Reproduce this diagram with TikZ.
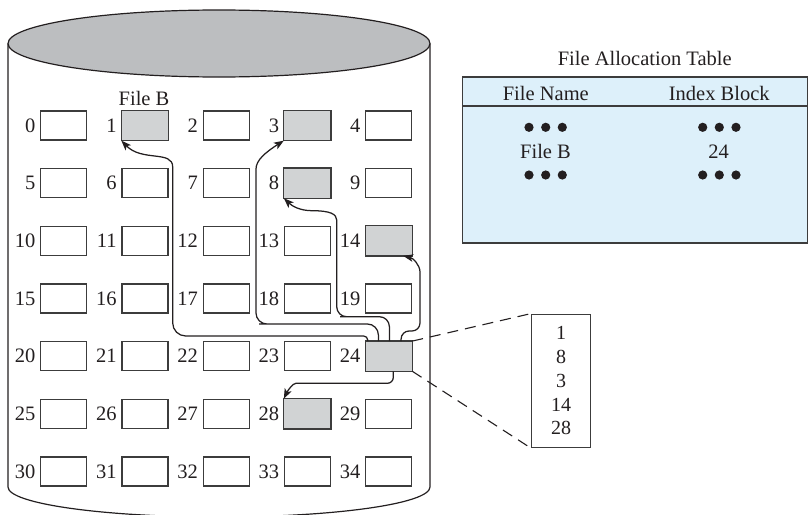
\documentclass[tikz,border=0pt]{standalone}
\usepackage{fontspec}
\setmainfont{Liberation Serif}
\usetikzlibrary{arrows.meta}
\definecolor{ink}{HTML}{231F20}
\definecolor{boxline}{HTML}{3C3C3C}
\definecolor{topgray}{HTML}{BCBEC0}
\definecolor{blockgray}{HTML}{D1D3D4}
\definecolor{tblue}{HTML}{DDF0FA}
\tikzset{
  blk/.style={draw=boxline, line width=1.2pt, minimum width=46pt, minimum height=29pt, inner sep=0pt, fill=white},
  num/.style={anchor=east, inner sep=0pt, text=ink},
  cyl/.style={draw=ink, line width=1.2pt},
  link/.style={draw=ink, line width=1.25pt, -{Stealth[length=10pt,width=7.5pt,inset=2.5pt]}},
  dashln/.style={draw=ink, line width=1.1pt, dash pattern=on 11pt off 7pt},
  lbl/.style={anchor=base, inner sep=0pt, text=ink},
  dotc/.style={fill=ink}
}
\begin{document}
\begin{tikzpicture}[x=1pt,y=-1pt, font=\fontsize{20.5}{24}\selectfont]
\useasboundingbox (0,0) rectangle (808,514);
\clip (0,0) rectangle (808,514);
% cylinder
\path[cyl] (8,43.5) -- (8,487)
  .. controls (8,503.6) and (102.5,517) .. (219,517)
  .. controls (335.5,517) and (430,503.6) .. (430,487) -- (430,43.5);
\path[cyl, fill=topgray] (219,43.5) ellipse [x radius=211pt, y radius=33.5pt];
% blocks
\foreach \r in {0,...,6} {
  \foreach \c in {0,...,4} {
    \pgfmathtruncatemacro\n{5*\r+\c}
    \node[blk] (b\n) at ({63.7+81.25*\c},{125.5+57.67*\r}) {};
    \node[num] (l\n) at ([xshift=-4.5pt]b\n.west) {\n};
  }
}
\foreach \n in {1,3,8,14,24,28} {
  \path[draw=boxline, line width=1.2pt, fill=blockgray] (b\n.south west) rectangle (b\n.north east);
}
\node[lbl] (fileb) at (144,105) {File B};
% links from index block 24
\draw[link] ([xshift=2.6pt]b24.north west) [rounded corners=4pt] |- (190,336) [rounded corners=13pt] -| (172.7,180)
  [sharp corners] .. controls (172.7,150) and (142,162) .. (b1.south west);
\draw[link] ([xshift=13.3pt]b24.north west) [rounded corners=11pt] |- (270,324) -| (256,180)
  [sharp corners] .. controls (256,160) and (266,152) .. (b3.south west);
\draw[link] ([xshift=24.3pt]b24.north west) [rounded corners=10pt] |- (350,316.7) -| (336.7,230)
  [sharp corners] .. controls (336.7,214) and (330,210.7) .. (312,210.7)
  .. controls (300,210.7) and (292,206) .. (b8.south west);
\draw[link] ([xshift=36pt]b24.north west) [rounded corners=8pt] |- (420,331) -- (420,280)
  [sharp corners] .. controls (420,265) and (413,258) .. ([xshift=14.5pt]b14.south);
\draw[link] ([xshift=4.6pt]b24.south) [rounded corners=6pt] |- (302,383.3)
  [sharp corners] .. controls (293,383.3) and (288,390) .. (b28.north west);
% index block contents
\node[draw=boxline, line width=1.2pt, minimum width=59pt, minimum height=133.5pt, inner sep=0pt,
  align=center, text=ink, font=\fontsize{20}{23.75}\selectfont] (idx) at (561.2,380.9) {1\\8\\3\\14\\28};
\draw[dashln] (b24.north east) -- (idx.north west);
\draw[dashln] (b24.south east) -- (idx.south west);
% file allocation table
\node[lbl] (fattitle) at (644.7,65) {File Allocation Table};
\node[draw=boxline, line width=1.4pt, fill=tblue, minimum width=345pt, minimum height=166pt, inner sep=0pt] (fat) at (635,160) {};
\draw[draw=boxline, line width=1.4pt] (fat.west |- 0,106) -- (fat.east |- 0,106);
\node[lbl] (hname) at (545.8,100) {File Name};
\node[lbl] (hidx) at (719.2,100) {Index Block};
\node[lbl] (rname) at (545.5,158.3) {File B};
\node[lbl] (ridx) at (718.5,158.3) {24};
\foreach \x in {529,545.7,562.3,702.7,719.3,736} {
  \fill[dotc] (\x,127.3) circle [radius=4.6pt];
  \fill[dotc] (\x,175) circle [radius=4.6pt];
}
\end{tikzpicture}
\end{document}
